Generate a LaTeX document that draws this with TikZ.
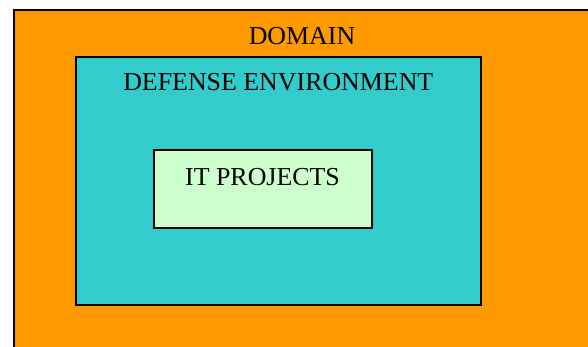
\documentclass[tikz,border=0pt]{standalone}
\usepackage{fontspec}
\setmainfont{Liberation Serif}
\definecolor{domainorange}{HTML}{FF9900}
\definecolor{defcyan}{HTML}{33CCCC}
\definecolor{itgreen}{HTML}{CCFFCC}
\begin{document}
\begin{tikzpicture}[x=1pt,y=-1pt,
  box/.style={draw=black,line width=2pt,inner sep=0pt,outer sep=0pt},
  lbl/.style={anchor=base,inner sep=0pt,font=\fontsize{25.9}{30}\selectfont}]
\useasboundingbox (0,0) rectangle (588,347);
\fill[white] (0,0) rectangle (588,347);
\path[box,fill=domainorange] (14,10) rectangle (600,360);
\node[box,fill=defcyan,minimum width=404.5pt,minimum height=248pt] (defbox) at (278.25,181) {};
\node[box,fill=itgreen,minimum width=218pt,minimum height=78pt] (itbox) at (263,189) {};
\node[lbl] (domain) at (302,44.3) {DOMAIN};
\node[lbl] (defenv) at (278.3,91) {DEFENSE ENVIRONMENT};
\node[lbl] (itproj) at (262.5,186) {IT PROJECTS};
\end{tikzpicture}
\end{document}
